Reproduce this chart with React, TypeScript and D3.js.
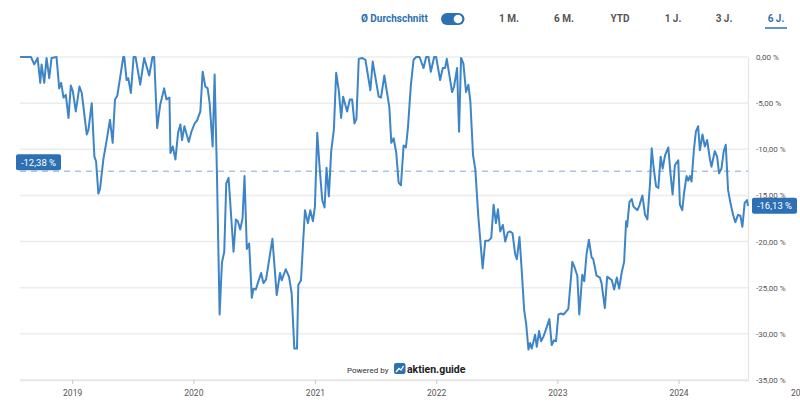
import React, { useEffect, useRef } from 'react';
import * as d3 from 'd3';

// drawdown series, dates as year-dayOfYear
const dates = [
  '2018-209', '2018-242', '2018-252', '2018-262', '2018-270', '2018-274', '2018-282', '2018-289', '2018-297', '2018-304',
  '2018-319', '2018-327', '2018-333', '2018-340', '2018-347', '2018-355', '2018-362',
  '2019-003', '2019-012', '2019-023', '2019-030', '2019-045', '2019-050', '2019-060', '2019-068', '2019-073', '2019-080',
  '2019-085', '2019-095', '2019-105', '2019-115', '2019-123', '2019-130', '2019-137', '2019-155', '2019-158', '2019-165',
  '2019-170', '2019-178', '2019-186', '2019-192', '2019-206', '2019-218', '2019-233', '2019-243', '2019-248', '2019-257',
  '2019-266', '2019-278', '2019-285', '2019-294', '2019-297', '2019-304', '2019-312', '2019-320', '2019-327', '2019-332',
  '2019-339', '2019-352', '2019-360',
  '2020-005', '2020-012', '2020-022', '2020-029', '2020-037', '2020-044', '2020-050', '2020-059', '2020-065', '2020-072',
  '2020-080', '2020-087', '2020-094', '2020-100', '2020-107', '2020-122', '2020-129', '2020-135', '2020-142', '2020-149',
  '2020-155', '2020-162', '2020-169', '2020-177', '2020-182', '2020-189', '2020-195', '2020-205', '2020-212', '2020-220',
  '2020-229', '2020-239', '2020-252', '2020-262', '2020-267', '2020-279', '2020-289', '2020-297', '2020-305', '2020-313',
  '2020-317', '2020-325', '2020-337', '2020-346', '2020-353', '2020-361',
  '2021-001', '2021-008', '2021-015', '2021-023', '2021-030', '2021-036', '2021-043', '2021-050', '2021-058', '2021-065',
  '2021-073', '2021-080', '2021-086', '2021-098', '2021-106', '2021-113', '2021-120', '2021-126', '2021-133', '2021-143',
  '2021-153', '2021-168', '2021-175', '2021-193', '2021-200', '2021-210', '2021-216', '2021-225', '2021-231', '2021-238',
  '2021-246', '2021-253', '2021-260', '2021-268', '2021-275', '2021-281', '2021-290', '2021-298', '2021-306', '2021-316',
  '2021-328', '2021-336', '2021-343', '2021-350', '2021-360',
  '2022-001', '2022-013', '2022-021', '2022-028', '2022-033', '2022-049', '2022-055', '2022-064', '2022-070', '2022-076',
  '2022-083', '2022-091', '2022-098', '2022-104', '2022-112', '2022-119', '2022-128', '2022-141', '2022-149', '2022-159',
  '2022-167', '2022-174', '2022-181', '2022-187', '2022-194', '2022-202', '2022-209', '2022-217', '2022-224', '2022-231',
  '2022-239', '2022-244', '2022-252', '2022-259', '2022-266', '2022-272', '2022-279', '2022-284', '2022-289', '2022-299',
  '2022-304', '2022-311', '2022-317', '2022-324', '2022-331', '2022-342', '2022-349', '2022-356', '2022-362',
  '2023-004', '2023-012', '2023-019', '2023-027', '2023-034', '2023-046', '2023-052', '2023-061', '2023-067', '2023-076',
  '2023-082', '2023-089', '2023-096', '2023-104', '2023-109', '2023-119', '2023-129', '2023-134', '2023-144', '2023-151',
  '2023-165', '2023-172', '2023-180', '2023-187', '2023-195', '2023-202', '2023-208', '2023-211', '2023-218', '2023-225',
  '2023-230', '2023-242', '2023-248', '2023-257', '2023-265', '2023-272', '2023-280', '2023-285', '2023-290', '2023-298',
  '2023-305', '2023-312', '2023-318', '2023-325', '2023-335', '2023-342', '2023-348', '2023-355', '2023-365',
  '2024-005', '2024-012', '2024-018', '2024-025', '2024-030', '2024-035', '2024-040', '2024-047', '2024-053', '2024-060',
  '2024-065', '2024-073', '2024-080', '2024-087', '2024-095', '2024-100', '2024-110', '2024-117', '2024-123', '2024-130',
  '2024-137', '2024-143', '2024-150', '2024-157', '2024-165', '2024-172', '2024-180', '2024-187', '2024-193', '2024-200',
  '2024-207', '2024-210',
];

const values = [
  0, 0, -0.8, -0.1, -2.8, -0.8, -2.8, -0.1, -2.3, -0.1,
  0, -3.4, -2.8, -4.4, -4.1, -6.6, -3.1,
  -3.7, -5.9, -3.2, -3.9, -8.4, -7.9, -5.0, -10.8, -11.3, -14.8,
  -14.3, -11.1, -9.0, -6.8, -9.3, -4.6, -4.2, 0, 0, -2.5,
  -2.3, -3.9, 0, 0, -3.0, -0.1, -2.0, 0, 0, -7.7,
  -5.2, -3.4, -4.6, -4.4, -10.4, -9.7, -11.1, -8.2, -7.3, -9.0,
  -7.5, -9.2, -8.1,
  -7.2, -6.9, -5.9, -1.6, -3.2, -3.4, -5.0, -9.7, -1.9, -12.6,
  -27.9, -22.3, -21.1, -13.7, -13.1, -21.1, -17.6, -17.8, -18.7, -17.5,
  -12.9, -20.8, -20.2, -26.1, -25.1, -25.2, -24.5, -23.4, -24.5, -24.1,
  -22.0, -19.7, -25.8, -23.4, -24.2, -23.0, -23.8, -25.6, -31.6, -31.6,
  -24.7, -24.2, -16.6, -18.0, -16.6, -17.8,
  -16.2, -8.2, -11.9, -15.5, -16.3, -12.0, -15.1, -10.2, -7.9, -1.7,
  -3.7, -6.6, -4.3, -5.9, -4.6, -4.6, -7.2, -6.7, -0.2, -0.1,
  -0.3, -3.6, -0.5, -4.3, -4.4, -2.0, -3.4, -5.4, -9.3, -8.8,
  -10.4, -13.6, -13.9, -9.6, -9.8, -7.7, -3.0, -0.3, 0, 0,
  -1.2, 0, 0, -1.6, 0,
  0, -2.5, -1.2, -1.2, -0.2, -3.8, -3.2, -1.2, -8.1, -0.1,
  -0.7, -3.8, -3.0, -4.8, -10.6, -12.2, -17.3, -22.9, -19.9, -19.9,
  -19.6, -16.0, -18.0, -16.5, -18.9, -18.2, -20.0, -19.0, -18.9, -19.1,
  -21.4, -21.9, -19.5, -23.3, -27.4, -28.9, -31.7, -31.0, -31.6, -30.1,
  -31.4, -29.7, -30.8, -30.3, -29.6, -28.4, -31.2, -30.7, -30.8,
  -27.9, -27.8, -27.9, -27.6, -27.3, -22.2, -22.7, -23.7, -27.9, -23.6,
  -24.3, -21.3, -19.8, -21.7, -21.9, -23.7, -23.9, -24.5, -27.2, -23.8,
  -24.2, -25.2, -23.9, -25.1, -23.3, -22.2, -17.8, -18.4, -15.7, -15.4,
  -16.2, -16.6, -16.1, -15.0, -17.1, -17.6, -13.7, -9.9, -11.7, -14.0,
  -14.2, -10.8, -12.1, -10.7, -9.8, -12.8, -14.9, -11.7, -11.2,
  -16.0, -16.6, -14.6, -12.9, -13.4, -12.9, -13.5, -10.1, -8.1, -7.5,
  -10.1, -8.4, -9.7, -9.0, -11.0, -11.9, -10.2, -10.8, -12.6, -12.1,
  -10.2, -9.5, -14.4, -15.8, -17.1, -17.9, -17.1, -17.2, -18.4, -15.8,
  -15.5, -16.13,
];

const yearTicks = [2019, 2020, 2021, 2022, 2023, 2024, 2025];
const percentTicks = [0, -5, -10, -15, -20, -25, -30, -35];
const average = -12.38;
const periods = ['1 M.', '6 M.', 'YTD', '1 J.', '3 J.', '6 J.'];
const activePeriod = '6 J.';

const width = 800;
const height = 413;
const left = 20;
const right = 748;
const top = 57;
const bottom = 380;
const lineBlue = '#3d85c6';
const darkBlue = '#2d70b3';

export default function App() {
  const ref = useRef<SVGSVGElement>(null);

  useEffect(() => {
    const svg = d3.select(ref.current);
    svg.selectAll('*').remove();

    const parse = d3.timeParse('%Y-%j');
    const points = dates.map((d, i) => ({ date: parse(d) as Date, value: values[i] }));

    const x = d3
      .scaleTime()
      .domain(d3.extent(points, (d) => d.date) as [Date, Date])
      .range([left, right]);
    const y = d3.scaleLinear().domain([-35, 0]).range([bottom, top]);

    const locale = d3.formatLocale({
      decimal: ',',
      thousands: '.',
      grouping: [3],
      currency: ['', ' €'],
      minus: '-',
    });
    const pct = (v: number) => locale.format('.2f')(v) + ' %';

    // gridlines
    svg
      .append('g')
      .selectAll('line')
      .data(percentTicks)
      .enter()
      .append('line')
      .attr('x1', left)
      .attr('x2', right)
      .attr('y1', (d) => y(d))
      .attr('y2', (d) => y(d))
      .attr('stroke', '#ececec')
      .attr('stroke-width', 1.5);

    // right axis
    const yAxis = d3
      .axisRight(y)
      .tickValues(percentTicks)
      .tickSize(0)
      .tickPadding(8)
      .tickFormat((d) => pct(d as number));
    const yg = svg.append('g').attr('transform', 'translate(' + right + ',0)').call(yAxis);
    yg.select('.domain').attr('stroke', '#e4e4e4').attr('stroke-width', 1.2);
    yg.selectAll('text')
      .attr('fill', '#555')
      .style('font-size', '8px')
      .style('font-family', 'Roboto, sans-serif');

    // bottom axis
    const xAxis = d3
      .axisBottom(x)
      .tickValues(yearTicks.map((yr) => new Date(yr, 0, 1)))
      .tickSize(4)
      .tickSizeOuter(0)
      .tickPadding(6)
      .tickFormat((d) => d3.timeFormat('%Y')(d as Date));
    const xg = svg.append('g').attr('transform', 'translate(0,' + bottom + ')').call(xAxis);
    xg.select('.domain').attr('stroke', '#e4e4e4').attr('stroke-width', 1.5);
    xg.selectAll('line').attr('stroke', '#c8c8c8');
    xg.selectAll('text')
      .attr('fill', '#555')
      .style('font-size', '8.5px')
      .style('font-family', 'Roboto, sans-serif');

    // average line
    svg
      .append('line')
      .attr('x1', left)
      .attr('x2', right)
      .attr('y1', y(average))
      .attr('y2', y(average))
      .attr('stroke', '#a9c3e0')
      .attr('stroke-width', 1.3)
      .attr('stroke-dasharray', '6,5');

    // series
    const line = d3
      .line<{ date: Date; value: number }>()
      .x((d) => x(d.date))
      .y((d) => y(d.value));
    svg
      .append('path')
      .datum(points)
      .attr('d', line)
      .attr('fill', 'none')
      .attr('stroke', lineBlue)
      .attr('stroke-width', 2)
      .attr('stroke-linejoin', 'round');

    // average label
    const avgY = y(average);
    svg
      .append('rect')
      .attr('x', left - 4)
      .attr('y', avgY - 17)
      .attr('width', 45)
      .attr('height', 16)
      .attr('rx', 2)
      .attr('fill', darkBlue);
    svg
      .append('text')
      .attr('x', left - 4 + 22.5)
      .attr('y', avgY - 9)
      .attr('dy', '0.35em')
      .attr('text-anchor', 'middle')
      .attr('fill', '#fff')
      .style('font-size', '9.5px')
      .text(pct(average));

    // last value label
    const last = points[points.length - 1];
    const lastY = y(last.value);
    svg
      .append('rect')
      .attr('x', right + 4)
      .attr('y', lastY - 8)
      .attr('width', 45)
      .attr('height', 16)
      .attr('rx', 2)
      .attr('fill', darkBlue);
    svg
      .append('text')
      .attr('x', right + 4 + 22.5)
      .attr('y', lastY)
      .attr('dy', '0.35em')
      .attr('text-anchor', 'middle')
      .attr('fill', '#fff')
      .style('font-size', '9.5px')
      .text(pct(last.value));

    // header
    const header = svg.append('g').style('font-weight', 'bold').style('font-size', '10px');
    header
      .append('text')
      .attr('x', 361)
      .attr('y', 22)
      .attr('fill', darkBlue)
      .text('Ø Durchschnitt');
    header
      .append('rect')
      .attr('x', 441)
      .attr('y', 13)
      .attr('width', 23.5)
      .attr('height', 12)
      .attr('rx', 6)
      .attr('fill', darkBlue);
    header.append('circle').attr('cx', 458).attr('cy', 19).attr('r', 4.3).attr('fill', '#fff');

    const centers = [509, 564, 620, 673, 724, 776];
    header
      .selectAll('text.period')
      .data(periods)
      .enter()
      .append('text')
      .attr('class', 'period')
      .attr('x', (d, i) => centers[i])
      .attr('y', 22)
      .attr('text-anchor', 'middle')
      .attr('fill', (d) => (d === activePeriod ? darkBlue : '#555'))
      .text((d) => d);
    const ai = periods.indexOf(activePeriod);
    header
      .append('line')
      .attr('x1', centers[ai] - 11)
      .attr('x2', centers[ai] + 11)
      .attr('y1', 28)
      .attr('y2', 28)
      .attr('stroke', darkBlue)
      .attr('stroke-width', 1.5);

    // footer
    const footer = svg.append('g');
    footer
      .append('text')
      .attr('x', 347)
      .attr('y', 372.5)
      .attr('fill', '#333')
      .style('font-size', '8px')
      .text('Powered by');
    footer
      .append('rect')
      .attr('x', 394)
      .attr('y', 363)
      .attr('width', 11.5)
      .attr('height', 11)
      .attr('rx', 2)
      .attr('fill', darkBlue);
    footer
      .append('polyline')
      .attr('points', '396,372 399,368.5 401,370 403.5,366')
      .attr('fill', 'none')
      .attr('stroke', '#fff')
      .attr('stroke-width', 1.3);
    footer
      .append('text')
      .attr('x', 407)
      .attr('y', 373)
      .attr('fill', '#222')
      .style('font-size', '10.5px')
      .style('font-weight', 'bold')
      .text('aktien.guide');
  }, []);

  return (
    <svg
      ref={ref}
      width={width}
      height={height}
      style={{ position: 'absolute', left: 0, top: 0, fontFamily: 'Roboto, sans-serif' }}
    />
  );
}
